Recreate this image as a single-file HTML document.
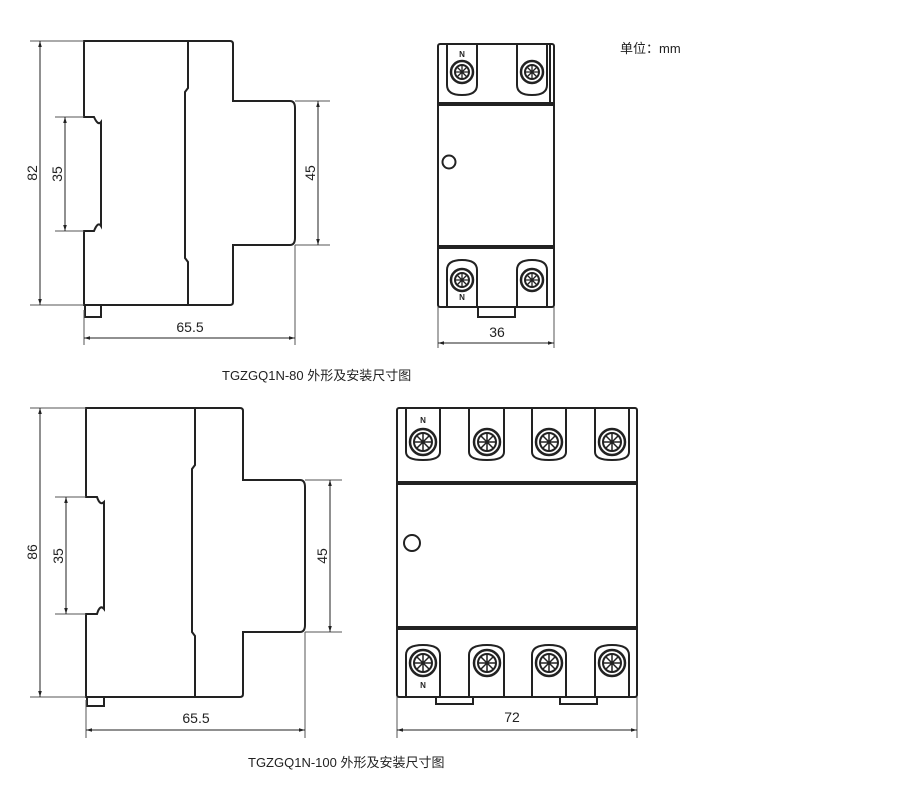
<!DOCTYPE html>
<html><head><meta charset="utf-8"><style>
body{margin:0;background:#fff;}
svg{display:block;}
text{font-family:"Liberation Sans","Noto Sans CJK SC",sans-serif;fill:#222;}
</style></head><body>
<svg width="900" height="808" viewBox="0 0 900 808" xmlns="http://www.w3.org/2000/svg">
<defs>
<marker id="a" viewBox="0 0 10 10" refX="10" refY="5" markerWidth="8" markerHeight="6" orient="auto-start-reverse"><path d="M0,2 L10,5 L0,8 z" fill="#222"/></marker>
<g id="screw"><circle r="11" fill="#fff" stroke="#222" stroke-width="2.5"/><circle r="7" fill="none" stroke="#222" stroke-width="2"/><path d="M-7,0H7M0,-7V7M-5,-5L5,5M-5,5L5,-5" stroke="#222" stroke-width="1.3"/></g>
<g id="screwb"><circle r="13" fill="#fff" stroke="#222" stroke-width="2.5"/><circle r="9" fill="none" stroke="#222" stroke-width="2"/><path d="M-9,0H9M0,-9V9M-6,-6L6,6M-6,6L6,-6" stroke="#222" stroke-width="1.5"/></g>
</defs>
<g fill="none" stroke="#222" stroke-width="2">
<path d="M84,41 H230 Q233,41 233,44 V101 H290 Q295,101 295,108 V238 Q295,245 290,245 H233 V302 Q233,305 230,305 H84 V231 H94 Q98,221 101,226 V122 Q98,126 94,117 H84 Z"/>
<path d="M188,41 V88 L185,92 V258 L188,262 V305"/>
<rect x="85" y="305" width="16" height="12"/>
<rect x="438" y="44" width="116" height="263" rx="2"/>
<path d="M438,104 H554 M438,247 H554" stroke-width="4"/>
<path d="M447,44 V85 Q447,95 462,95 Q477,95 477,85 V44 M517,44 V85 Q517,95 532,95 Q547,95 547,85 V44 M550,44 V104"/>
<path d="M447,307 V270 Q447,260 462,260 Q477,260 477,270 V307 M517,307 V270 Q517,260 532,260 Q547,260 547,270 V307"/>
<circle cx="449" cy="162" r="6.5"/>
<path d="M478,307 V317 H515 V307"/>
<path d="M86,408 H240 Q243,408 243,411 V480 H300 Q305,480 305,487 V625 Q305,632 300,632 H243 V694 Q243,697 240,697 H86 V614 H97 Q100,604 104,609 V502 Q100,506 97,497 H86 Z"/>
<path d="M195,408 V465 L192,469 V632 L195,636 V697"/>
<rect x="87" y="697" width="17" height="9"/>
<rect x="397" y="408" width="240" height="289" rx="2"/>
<path d="M397,483 H637 M397,628 H637" stroke-width="4"/>
<path d="M406,408 V452 Q406,460 423,460 Q440,460 440,452 V408 M469,408 V452 Q469,460 487,460 Q504,460 504,452 V408 M532,408 V452 Q532,460 549,460 Q566,460 566,452 V408 M595,408 V452 Q595,460 612,460 Q629,460 629,452 V408"/>
<path d="M406,697 V655 Q406,645 423,645 Q440,645 440,655 V697 M469,697 V655 Q469,645 487,645 Q504,645 504,655 V697 M532,697 V655 Q532,645 549,645 Q566,645 566,655 V697 M595,697 V655 Q595,645 612,645 Q629,645 629,655 V697"/>
<circle cx="412" cy="543" r="8"/>
<path d="M436,697 V704 H473 V697 M560,697 V704 H597 V697"/>
</g>
<use href="#screw" x="462" y="72"/><use href="#screw" x="532" y="72"/>
<use href="#screw" x="462" y="280"/><use href="#screw" x="532" y="280"/>
<use href="#screwb" x="423" y="442"/><use href="#screwb" x="487" y="442"/><use href="#screwb" x="549" y="442"/><use href="#screwb" x="612" y="442"/>
<use href="#screwb" x="423" y="663"/><use href="#screwb" x="487" y="663"/><use href="#screwb" x="549" y="663"/><use href="#screwb" x="612" y="663"/>
<g font-size="8" font-weight="bold" text-anchor="middle"><text x="462" y="57">N</text><text x="462" y="300">N</text><text x="423" y="423">N</text><text x="423" y="688">N</text></g>
<g stroke="#555" stroke-width="1" fill="none">
<path d="M30,41 H84 M30,305 H84 M55,117 H84 M55,231 H84 M295,101 H330 M295,245 H330 M84,310 V345 M295,245 V345"/>
<path d="M438,307 V348 M554,307 V348"/>
<path d="M30,408 H86 M30,697 H86 M55,497 H86 M55,614 H86 M305,480 H342 M305,632 H342 M86,700 V738 M305,632 V738 M397,697 V738 M637,697 V738"/>
</g>
<g stroke="#222" stroke-width="1" marker-start="url(#a)" marker-end="url(#a)">
<line x1="40" y1="41" x2="40" y2="305"/><line x1="65" y1="117" x2="65" y2="231"/><line x1="318" y1="101" x2="318" y2="245"/><line x1="84" y1="338" x2="295" y2="338"/><line x1="438" y1="343" x2="554" y2="343"/>
<line x1="40" y1="408" x2="40" y2="697"/><line x1="66" y1="497" x2="66" y2="614"/><line x1="330" y1="480" x2="330" y2="632"/><line x1="86" y1="730" x2="305" y2="730"/><line x1="397" y1="730" x2="637" y2="730"/>
</g>
<g font-size="14" text-anchor="middle">
<text transform="translate(37,173) rotate(-90)">82</text>
<text transform="translate(62,174) rotate(-90)">35</text>
<text transform="translate(315,173) rotate(-90)">45</text>
<text x="190" y="332">65.5</text>
<text x="497" y="337">36</text>
<text transform="translate(37,552) rotate(-90)">86</text>
<text transform="translate(63,556) rotate(-90)">35</text>
<text transform="translate(327,556) rotate(-90)">45</text>
<text x="196" y="723">65.5</text>
<text x="512" y="722">72</text>
</g>
<text x="620" y="53" font-size="13">单位：mm</text>
<text x="222" y="380" font-size="13">TGZGQ1N-80 外形及安装尺寸图</text>
<text x="248" y="767" font-size="13">TGZGQ1N-100 外形及安装尺寸图</text>
</svg>
</body></html>
